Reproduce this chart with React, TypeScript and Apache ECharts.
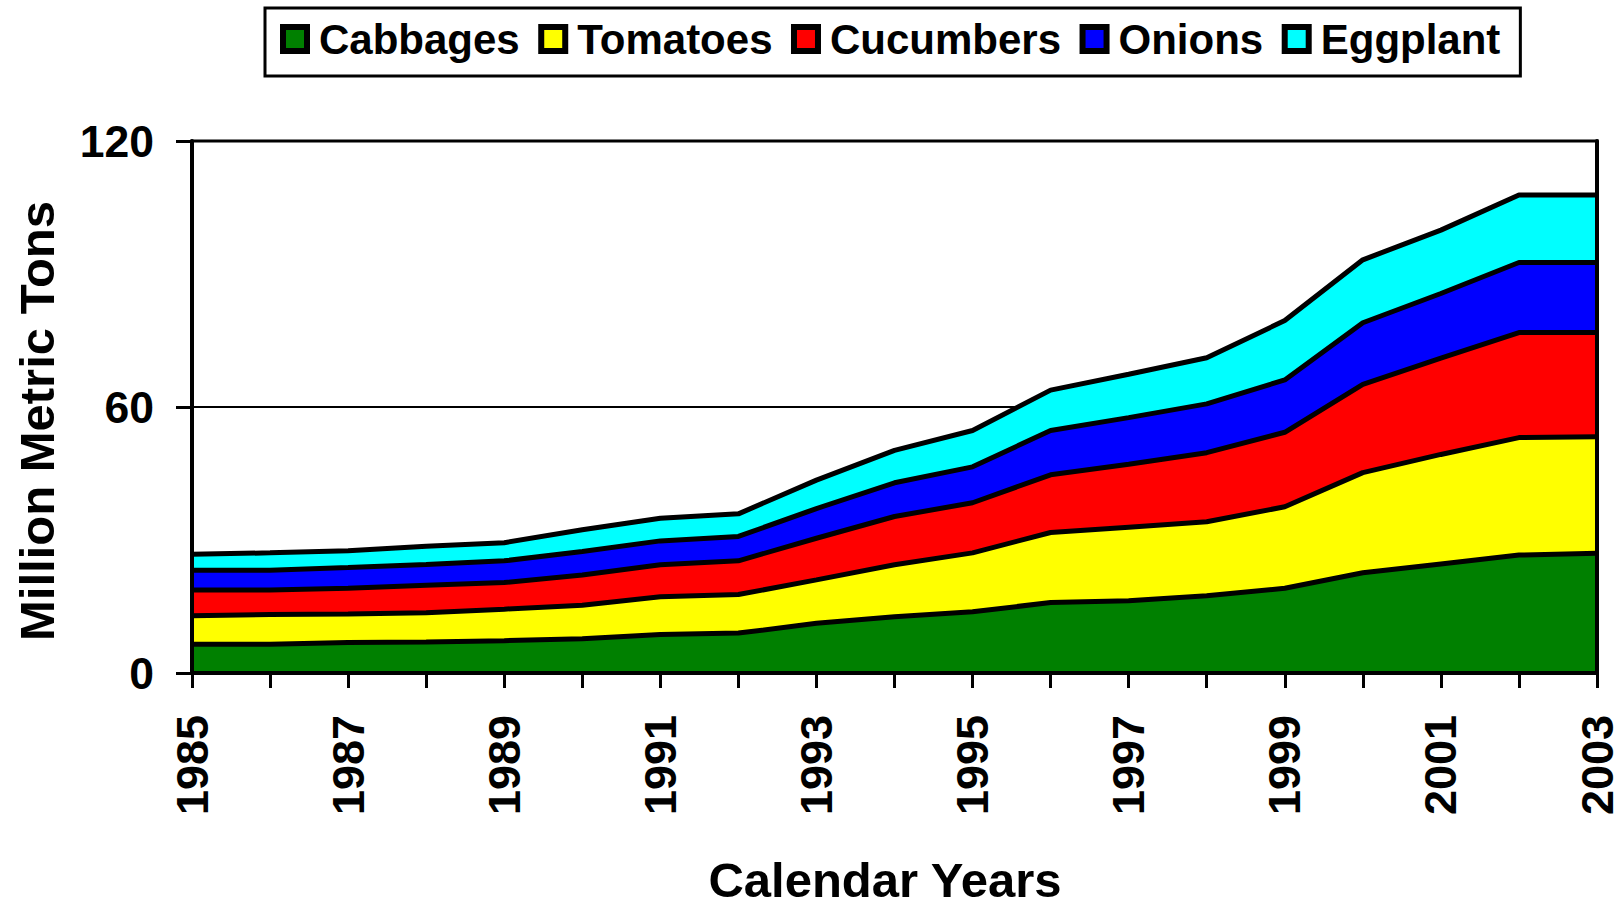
import React, { useEffect, useRef } from "react";
import * as echarts from "echarts";

const years = ["1985","1986","1987","1988","1989","1990","1991","1992","1993","1994","1995","1996","1997","1998","1999","2000","2001","2002","2003"];
const seriesNames = ["Cabbages", "Tomatoes", "Cucumbers", "Onions", "Eggplant"];
const seriesColors = ["#008000", "#FFFF00", "#FF0000", "#0000FF", "#00FFFF"];
const cabbages = [6.5,6.5,6.9,7.0,7.3,7.7,8.7,9.0,11.2,12.7,13.8,15.9,16.3,17.4,19.1,22.6,24.6,26.6,27.0];
const tomatoes = [6.4,6.7,6.4,6.6,7.1,7.6,8.5,8.7,9.8,11.7,13.3,15.8,16.6,16.7,18.4,22.6,24.7,26.5,26.3];
const cucumbers = [5.8,5.5,5.8,6.2,6.0,6.8,7.2,7.6,9.4,10.9,11.3,13.0,14.2,15.6,16.8,19.9,21.7,23.7,23.5];
const onions = [4.5,4.5,4.7,4.7,4.9,5.3,5.4,5.5,6.7,7.6,8.1,10.0,10.5,11.0,11.8,13.9,14.6,15.8,15.8];
const eggplant = [3.6,3.9,3.8,4.1,4.1,4.9,5.1,5.1,6.4,7.3,8.2,9.1,9.8,10.4,13.4,14.2,14.3,15.2,15.2];
const seriesValues = [cabbages, tomatoes, cucumbers, onions, eggplant];
const yTicks = { min: 0, max: 120, interval: 60 };
const xAxisTitle = "Calendar Years";
const yAxisTitle = "Million Metric Tons";

const FONT = "'Liberation Sans', Arial, sans-serif";

export default function App() {
  const ref = useRef<HTMLDivElement>(null);
  useEffect(() => {
    if (!ref.current) return;
    const chart = echarts.init(ref.current, undefined, { renderer: "svg" });
    const areaSeries = seriesNames.map((name, i) => ({
      name,
      type: "line",
      stack: "areas",
      data: seriesValues[i],
      symbol: "none",
      z: 2,
      itemStyle: { color: seriesColors[i] },
      lineStyle: { width: 0, color: seriesColors[i] },
      areaStyle: { color: seriesColors[i], opacity: 1 },
      silent: true,
    }));
    const lineSeries = seriesNames.map((name, i) => ({
      name: name + " edge",
      type: "line",
      stack: "edges",
      data: seriesValues[i],
      symbol: "none",
      z: 3,
      lineStyle: { width: 5, color: "#000" },
      itemStyle: { color: "#000" },
      silent: true,
    }));
    chart.setOption({
      animation: false,
      backgroundColor: "#fff",
      textStyle: { fontFamily: FONT },
      legend: {
        data: seriesNames,
        left: 265,
        top: 8,
        orient: "horizontal",
        icon: "rect",
        itemWidth: 24,
        itemHeight: 24,
        itemGap: 18.5,
        padding: [10, 20, 16, 15],
        borderColor: "#000",
        borderWidth: 3,
        backgroundColor: "#fff",
        itemStyle: { borderColor: "#000", borderWidth: 6 },
        textStyle: {
          fontFamily: FONT,
          fontWeight: "bold",
          fontSize: 42,
          color: "#000",
          padding: [0, 0, 0, 7],
        },
        selectedMode: false,
      },
      grid: {
        left: 192,
        right: 22,
        top: 141,
        bottom: 229,
        show: true,
        borderColor: "#000",
        borderWidth: 3,
        backgroundColor: "transparent",
        outerBoundsMode: "none",
        containLabel: false,
      },
      xAxis: {
        type: "category",
        data: years,
        boundaryGap: false,
        z: 10,
        axisLine: { show: true, lineStyle: { color: "#000", width: 4 } },
        axisTick: { show: true, interval: 0, length: 15, lineStyle: { color: "#000", width: 3 } },
        axisLabel: {
          interval: 1,
          rotate: 90,
          margin: 42,
          fontSize: 45,
          lineHeight: 36,
          fontWeight: "bold",
          color: "#000",
          fontFamily: FONT,
        },
        splitLine: { show: false },
        name: xAxisTitle,
        nameLocation: "middle",
        nameGap: 187,
        nameTextStyle: {
          fontSize: 49,
          lineHeight: 40,
          fontWeight: "bold",
          color: "#000",
          fontFamily: FONT,
          padding: [0, 19, 0, 0],
        },
      },
      yAxis: [
        {
          type: "value",
          min: yTicks.min,
          max: yTicks.max,
          interval: yTicks.interval,
          z: 0,
          axisLine: { show: false },
          axisTick: { show: false },
          axisLabel: { show: false },
          splitLine: { show: true, lineStyle: { color: "#000", width: 2 } },
        },
        {
          type: "value",
          position: "left",
          min: yTicks.min,
          max: yTicks.max,
          interval: yTicks.interval,
          z: 10,
          axisLine: { show: true, onZero: false, lineStyle: { color: "#000", width: 4 } },
          axisTick: { show: true, length: 16, lineStyle: { color: "#000", width: 3 } },
          axisLabel: {
            margin: 38,
            fontSize: 44.5,
            fontWeight: "bold",
            color: "#000",
            fontFamily: FONT,
          },
          splitLine: { show: false },
          name: yAxisTitle,
          nameLocation: "middle",
          nameRotate: 90,
          nameGap: 135,
          nameTextStyle: {
            fontSize: 49,
            lineHeight: 40,
            fontWeight: "bold",
            color: "#000",
            fontFamily: FONT,
            padding: [0, 28, 0, 0],
          },
        },
        {
          type: "value",
          position: "right",
          min: yTicks.min,
          max: yTicks.max,
          interval: yTicks.interval,
          z: 10,
          axisLine: { show: true, onZero: false, lineStyle: { color: "#000", width: 4 } },
          axisTick: { show: false },
          axisLabel: { show: false },
          splitLine: { show: false },
        },
      ],
      series: [...areaSeries, ...lineSeries],
    });
    return () => chart.dispose();
  }, []);
  return (
    <div
      ref={ref}
      style={{ position: "absolute", left: 0, top: 0, width: 1619, height: 902 }}
    />
  );
}
